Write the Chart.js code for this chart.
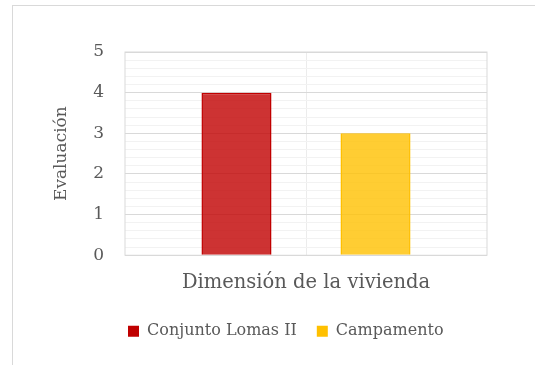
<!DOCTYPE html>
<html>
<head>
<meta charset="utf-8">
<script src="https://cdn.jsdelivr.net/npm/chart.js@4"></script>
<style>
  html, body { margin: 0; padding: 0; background: #fff; overflow: hidden; }
  #frame { position: absolute; left: 12px; top: 5px; width: 600px; height: 400px; border: 1px solid #d9d9d9; }
  #chart { position: absolute; left: 0; top: 0; }
</style>
</head>
<body>
<div id="frame"></div>
<canvas id="chart" width="535" height="365"></canvas>
<script>
const categories = ['Dimensión de la vivienda'];
const seriesNames = ['Conjunto Lomas II', 'Campamento'];
const lomasValues = [4];
const campamentoValues = [3];
const yTicks = [0, 1, 2, 3, 4, 5];

const serif = "'DejaVu Serif', 'Liberation Serif', serif";
const textColor = '#595959';

function isMajor(v) {
    return Number.isInteger(Math.round(v * 1000) / 1000);
}

// Light box around the plot area, under the bars
const plotBorder = {
    id: 'plotBorder',
    beforeDatasetsDraw(chart) {
        const { ctx, chartArea: a } = chart;
        ctx.save();
        ctx.strokeStyle = '#d9d9d9';
        ctx.lineWidth = 1;
        ctx.strokeRect(a.left, a.top, a.right - a.left, a.bottom - a.top);
        ctx.restore();
    }
};

// Legend sits a bit left of the canvas centre
const legendShift = {
    id: 'legendShift',
    afterLayout(chart) {
        chart.legend.left = 108;
    }
};

const ctx = document.getElementById('chart').getContext('2d');
new Chart(ctx, {
    type: 'bar',
    data: {
        labels: categories,
        datasets: [
            {
                label: seriesNames[0],
                data: lomasValues,
                backgroundColor: 'rgba(192, 0, 0, 0.8)',
                borderColor: '#C00000',
                borderWidth: 1.5
            },
            {
                label: seriesNames[1],
                data: campamentoValues,
                backgroundColor: 'rgba(255, 192, 0, 0.8)',
                borderColor: '#FFC000',
                borderWidth: 1.5
            }
        ]
    },
    options: {
        responsive: false,
        animation: false,
        devicePixelRatio: 1,
        categoryPercentage: 0.768,
        barPercentage: 0.504,
        layout: {
            padding: { left: 0, right: 48, top: 52, bottom: 15.75 }
        },
        plugins: {
            tooltip: { enabled: false },
            legend: {
                position: 'bottom',
                align: 'start',
                labels: {
                    boxWidth: 11,
                    boxHeight: 11,
                    padding: 20,
                    color: textColor,
                    font: { family: serif, size: 16 },
                    generateLabels: chart => Chart.defaults.plugins.legend.labels.generateLabels(chart)
                        .map(item => ({ ...item, fillStyle: item.strokeStyle, lineWidth: 0 }))
                }
            }
        },
        scales: {
            x: {
                afterFit: scale => { scale.height = 48; },
                border: { display: false },
                grid: {
                    offset: false,
                    drawTicks: false,
                    color: '#ececec'
                },
                ticks: {
                    padding: 16,
                    color: textColor,
                    font: { family: serif, size: 19.5 }
                }
            },
            y: {
                min: 0,
                max: 5,
                afterFit: scale => { scale.width = 125; },
                border: { display: false },
                grid: {
                    drawTicks: false,
                    color: c => (c.tick && isMajor(c.tick.value)) ? '#d9d9d9' : '#f2f2f2'
                },
                ticks: {
                    stepSize: 0.2,
                    maxTicksLimit: 40,
                    autoSkip: false,
                    padding: 21,
                    color: textColor,
                    font: { family: serif, size: 17 },
                    callback: v => yTicks.includes(Math.round(v * 1000) / 1000) ? Math.round(v) : ''
                },
                title: {
                    display: true,
                    text: 'Evaluación',
                    color: textColor,
                    font: { family: serif, size: 17 },
                    padding: { top: 51.8, bottom: 0 }
                }
            }
        }
    },
    plugins: [plotBorder, legendShift]
});
</script>
</body>
</html>
